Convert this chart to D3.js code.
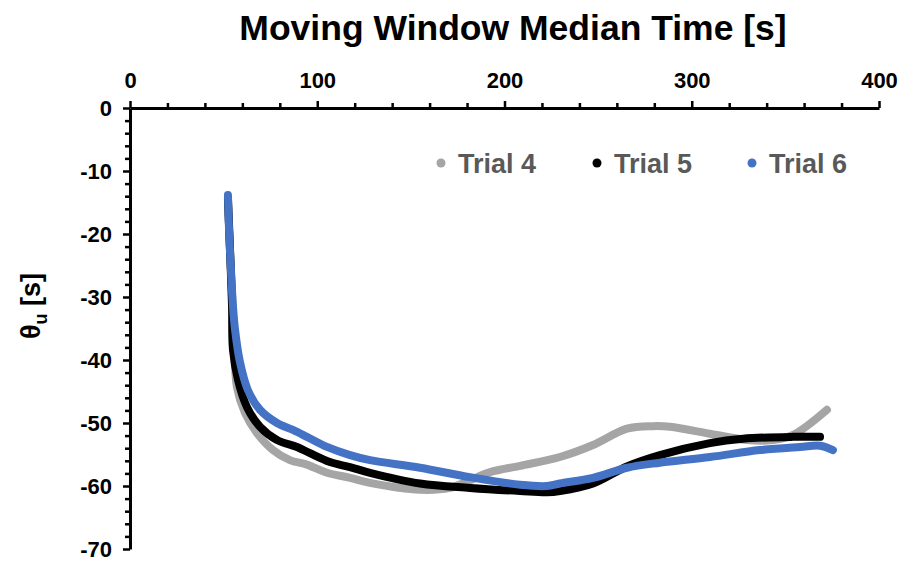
<!DOCTYPE html>
<html>
<head>
<meta charset="utf-8">
<script src="https://cdn.jsdelivr.net/npm/d3@7"></script>
<style>
  html, body { margin: 0; padding: 0; background: #fff; }
  svg { display: block; font-family: "Liberation Sans", Arial, sans-serif; }
</style>
</head>
<body>
<svg id="chart" width="903" height="565"></svg>
<script>
// Moving-window median time [s] and θu [s] for each trial
const trial4Time = [52.3, 53.9, 55.5, 57.1, 61.4, 67.8, 76.4, 85.4, 94.5, 105.2, 117.5, 128.2, 154.9, 170.9, 180.0, 192.3, 208.3, 229.6, 247.3, 265.4, 279.3, 288.4, 309.7, 329.5, 343.4, 354.1, 372.2];
const trial4Theta = [-14.6, -25.7, -36.0, -44.3, -48.4, -51.6, -54.3, -55.9, -56.6, -57.9, -58.7, -59.5, -60.6, -60.3, -59.3, -57.8, -56.8, -55.4, -53.5, -50.9, -50.5, -50.6, -51.7, -52.7, -52.7, -51.9, -47.9];

const trial5Time = [52.3, 53.4, 54.5, 55.0, 57.7, 62.5, 69.4, 78.5, 89.2, 96.1, 106.8, 117.5, 128.2, 154.9, 181.6, 208.3, 222.7, 229.6, 247.3, 265.4, 283.0, 309.7, 327.4, 354.1, 368.5];
const trial5Theta = [-14.3, -22.5, -31.5, -38.4, -43.2, -47.5, -50.6, -52.7, -53.8, -54.8, -56.2, -57.0, -57.9, -59.6, -60.3, -60.8, -61.0, -60.8, -59.6, -56.9, -55.1, -53.2, -52.5, -52.2, -52.2];

const trial6Time = [52.3, 52.9, 53.9, 55.0, 56.1, 58.7, 63.0, 69.4, 78.5, 87.0, 94.5, 105.2, 117.5, 128.2, 154.9, 181.6, 208.3, 222.7, 229.6, 247.3, 265.4, 283.0, 309.7, 336.4, 357.8, 368.5, 375.4];
const trial6Theta = [-13.8, -19.4, -25.7, -31.5, -35.2, -40.3, -44.8, -47.9, -50.0, -51.1, -52.2, -53.8, -55.1, -55.9, -57.1, -58.6, -59.8, -60.0, -59.6, -58.7, -57.1, -56.3, -55.4, -54.3, -53.8, -53.6, -54.3];

const seriesNames = ["Trial 4", "Trial 5", "Trial 6"];
const seriesColors = ["#A5A5A5", "#000000", "#4472C4"];

const xMajorTicks = [0, 100, 200, 300, 400];
const yMajorTicks = [0, -10, -20, -30, -40, -50, -60, -70];

const series = [
  { name: seriesNames[0], color: seriesColors[0], pts: trial4Time.map((t, i) => [t, trial4Theta[i]]) },
  { name: seriesNames[1], color: seriesColors[1], pts: trial5Time.map((t, i) => [t, trial5Theta[i]]) },
  { name: seriesNames[2], color: seriesColors[2], pts: trial6Time.map((t, i) => [t, trial6Theta[i]]) }
];

const svg = d3.select("#chart");

const x = d3.scaleLinear().domain([0, 400]).range([130, 879]);
const y = d3.scaleLinear().domain([0, -70]).range([108, 549]);

const fmt = d => String(d); // plain hyphen-minus labels

// Minor ticks (drawn first, underneath the major axis)
const xMinor = d3.range(0, 401, 20).filter(v => v % 100 !== 0);
const yMinor = d3.range(0, -71, -2).filter(v => v % 10 !== 0);

svg.append("g")
  .attr("transform", `translate(0,${y(0)})`)
  .call(d3.axisTop(x).tickValues(xMinor).tickSize(5).tickFormat(""))
  .call(g => g.select(".domain").remove())
  .call(g => g.selectAll("line").attr("stroke", "#000").attr("stroke-width", 2.5));

svg.append("g")
  .attr("transform", `translate(${x(0)},0)`)
  .call(d3.axisLeft(y).tickValues(yMinor).tickSize(5).tickFormat(""))
  .call(g => g.select(".domain").remove())
  .call(g => g.selectAll("line").attr("stroke", "#000").attr("stroke-width", 2.5));

// Major axes
svg.append("g")
  .attr("transform", `translate(0,${y(0)})`)
  .call(d3.axisTop(x).tickValues(xMajorTicks).tickFormat(fmt).tickSizeInner(7).tickSizeOuter(0).tickPadding(13))
  .call(g => g.select(".domain").attr("stroke", "#000").attr("stroke-width", 3))
  .call(g => g.selectAll("line").attr("stroke", "#000").attr("stroke-width", 2.5))
  .call(g => g.selectAll("text").attr("fill", "#000").attr("font-size", 22).attr("font-weight", "bold")
    .attr("font-family", "'Liberation Sans', Arial, sans-serif"));

svg.append("g")
  .attr("transform", `translate(${x(0)},0)`)
  .call(d3.axisLeft(y).tickValues(yMajorTicks).tickFormat(fmt).tickSizeInner(7).tickSizeOuter(0).tickPadding(11))
  .call(g => g.select(".domain").attr("stroke", "#000").attr("stroke-width", 3))
  .call(g => g.selectAll("line").attr("stroke", "#000").attr("stroke-width", 2.5))
  .call(g => g.selectAll("text").attr("fill", "#000").attr("font-size", 22).attr("font-weight", "bold")
    .attr("font-family", "'Liberation Sans', Arial, sans-serif"));

// Series lines
const line = d3.line()
  .x(d => x(d[0]))
  .y(d => y(d[1]))
  .curve(d3.curveCatmullRom.alpha(0.5));

svg.append("g").selectAll("path")
  .data(series)
  .join("path")
  .attr("d", d => line(d.pts))
  .attr("fill", "none")
  .attr("stroke", d => d.color)
  .attr("stroke-width", 8)
  .attr("stroke-linecap", "round")
  .attr("stroke-linejoin", "round");

// Title
svg.append("text")
  .attr("x", 513)
  .attr("y", 40)
  .attr("text-anchor", "middle")
  .attr("font-size", 35.5)
  .attr("font-weight", "bold")
  .attr("fill", "#000")
  .text("Moving Window Median Time [s]");

// Y-axis title
const yTitle = svg.append("text")
  .attr("transform", "translate(40,306) rotate(-90)")
  .attr("text-anchor", "middle")
  .attr("font-size", 27)
  .attr("font-weight", "bold")
  .attr("fill", "#000");
yTitle.append("tspan").text("θ");
yTitle.append("tspan").attr("font-size", 18).attr("dy", 7).text("u");
yTitle.append("tspan").attr("dy", -7).text(" [s]");

// Legend
const legendX = [441, 597, 752];
const legend = svg.append("g").selectAll("g")
  .data(series)
  .join("g")
  .attr("transform", (d, i) => `translate(${legendX[i]},163)`);
legend.append("circle").attr("r", 4.5).attr("fill", d => d.color);
legend.append("text")
  .attr("x", 17)
  .attr("y", 9.5)
  .attr("font-size", 27)
  .attr("font-weight", "bold")
  .attr("fill", "#595959")
  .text(d => d.name);
</script>
</body>
</html>
